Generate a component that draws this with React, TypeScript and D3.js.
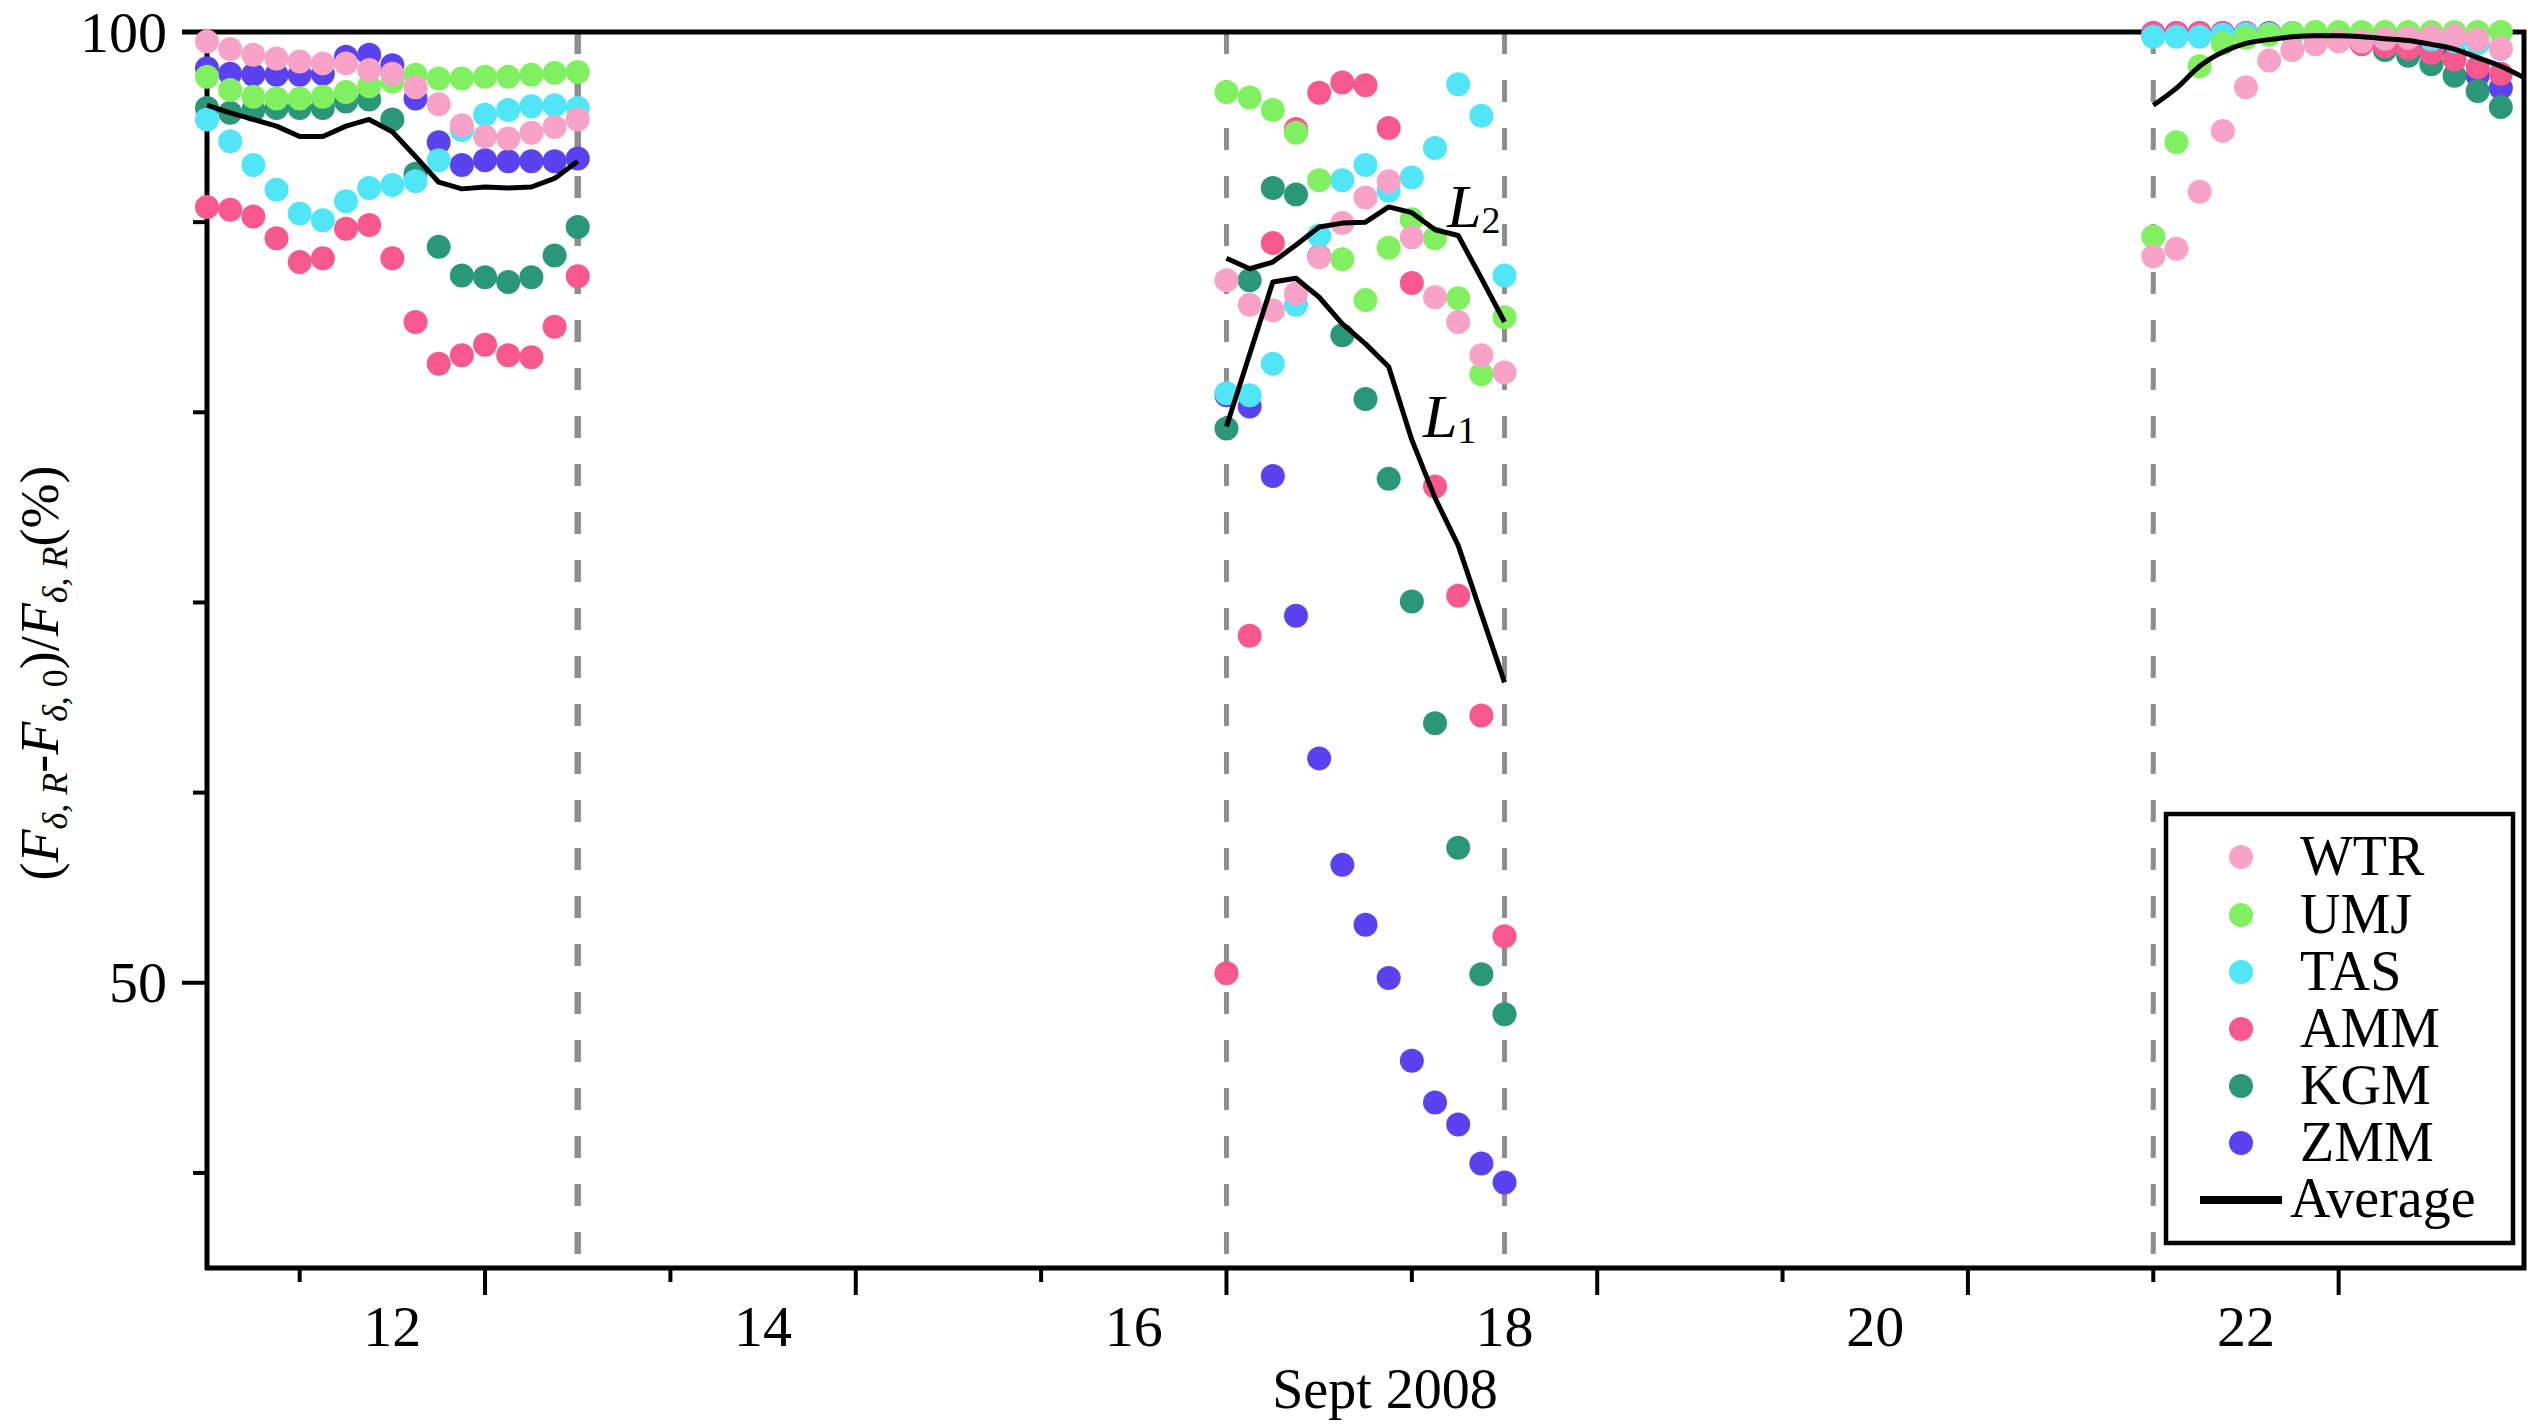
import React, { useEffect } from 'react';
import * as d3 from 'd3';

// Time (days of Sept 2008) for each of the three observation windows
const times1 = [11.5, 11.625, 11.75, 11.875, 12, 12.125, 12.25, 12.375, 12.5, 12.625, 12.75, 12.875, 13, 13.125, 13.25, 13.375, 13.5];
const times2 = [17, 17.125, 17.25, 17.375, 17.5, 17.625, 17.75, 17.875, 18, 18.125, 18.25, 18.375, 18.5];
const times3 = [22, 22.125, 22.25, 22.375, 22.5, 22.625, 22.75, 22.875, 23, 23.125, 23.25, 23.375, 23.5, 23.625, 23.75, 23.875, 24];

// Station values, window 1
const WTR1 = [99.5, 99.1, 98.8, 98.6, 98.45, 98.35, 98.35, 98.0, 97.8, 97.1, 96.2, 95.1, 94.5, 94.4, 94.7, 95.0, 95.4];
const UMJ1 = [97.65, 96.95, 96.6, 96.5, 96.5, 96.6, 96.85, 97.15, 97.4, 97.75, 97.55, 97.55, 97.65, 97.65, 97.75, 97.85, 97.9];
const TAS1 = [95.4, 94.25, 93.0, 91.7, 90.45, 90.1, 91.1, 91.8, 91.95, 92.15, 93.25, 94.85, 95.65, 95.9, 96.1, 96.15, 96.0];
const AMM1 = [90.8, 90.65, 90.3, 89.15, 87.9, 88.1, 89.65, 89.85, 88.1, 84.75, 82.55, 83.0, 83.55, 83.0, 82.9, 84.5, 87.15];
const KGM1 = [96.0, 95.75, 95.9, 96.0, 96.0, 96.0, 96.35, 96.45, 95.4, 92.55, 88.7, 87.2, 87.1, 86.85, 87.1, 88.25, 89.75];
const ZMM1 = [98.1, 97.8, 97.75, 97.75, 97.75, 97.8, 98.7, 98.8, 98.25, 96.5, 94.2, 93.0, 93.25, 93.2, 93.2, 93.2, 93.35];
const AVG1 = [96.15, 95.75, 95.4, 95.05, 94.5, 94.5, 95.05, 95.4, 94.75, 93.45, 92.1, 91.75, 91.85, 91.8, 91.85, 92.3, 93.2];

// window 2
const WTR2 = [86.95, 85.65, 85.35, 86.25, 88.15, 89.95, 91.3, 92.15, 89.2, 86.05, 84.75, 83.0, 82.1];
const UMJ2 = [96.85, 96.55, 95.9, 94.7, 92.2, 88.05, 85.9, 88.65, 90.15, 89.15, 86.0, 82.0, 85.0];
const TAS2 = [81.0, 80.9, 82.55, 85.65, 89.3, 92.2, 93.0, 91.65, 92.35, 93.9, 97.25, 95.6, 87.2];
const AMM2 = [50.5, 68.25, 88.9, 94.9, 96.8, 97.35, 97.2, 94.95, 86.8, 76.1, 70.35, 64.05, 52.45];
const KGM2 = [79.15, 86.95, 91.8, 91.45, 88.2, 84.05, 80.7, 76.5, 70.05, 63.65, 57.1, 50.45, 48.35];
const ZMM2 = [80.9, 80.3, 76.65, 69.3, 61.8, 56.2, 53.05, 50.25, 45.9, 43.7, 42.55, 40.5, 39.5];
const L1 = [79.25, 83.05, 86.85, 87.05, 86.05, 84.65, 83.6, 82.4, 78.55, 75.5, 73.0, 69.4, 65.8];
const L2 = [88.1, 87.55, 87.9, 88.8, 89.75, 89.95, 90.0, 90.8, 90.5, 89.6, 89.3, 87.05, 84.75];

// window 3 (dots stop one step before the right edge)
const WTR3 = [88.2, 88.6, 91.6, 94.8, 97.1, 98.5, 99.05, 99.35, 99.5, 99.5, 99.65, 99.7, 99.75, 99.8, 99.6, 99.15];
const UMJ3 = [89.25, 94.2, 98.2, 99.4, 99.7, 99.85, 99.95, 100, 100, 100, 100, 100, 100, 100, 100, 100];
const TAS3 = [99.75, 99.75, 99.75, 99.85, 99.9, 99.9, 99.9, 99.9, 99.9, 99.9, 99.85, 99.75, 99.6, 99.5, 99.4, 99.1];
const AMM3 = [99.95, 99.95, 99.95, 99.95, 99.95, 99.9, 99.9, 99.8, 99.6, 99.35, 99.25, 99.15, 98.9, 98.55, 98.15, 97.8];
const KGM3 = [99.9, 99.9, 99.9, 99.9, 99.9, 99.9, 99.9, 99.85, 99.75, 99.5, 99.05, 98.75, 98.3, 97.7, 96.9, 96.05];
const ZMM3 = [99.95, 99.95, 99.95, 99.95, 99.95, 99.95, 99.95, 99.9, 99.9, 99.85, 99.8, 99.6, 99.3, 98.8, 97.7, 97.05];
const AVG3 = [96.15, 97.05, 98.2, 98.95, 99.4, 99.6, 99.75, 99.8, 99.8, 99.75, 99.65, 99.55, 99.35, 99.1, 98.65, 98.2, 97.6];

const stationNames = ['WTR', 'UMJ', 'TAS', 'AMM', 'KGM', 'ZMM'];
const stationColors = ['#f8a2c8', '#80f060', '#50e6f8', '#f7588e', '#2a9878', '#5a42f0'];

// axis ticks
const dayLabels = [12, 14, 16, 18, 20, 22];
const longTickDays = [13, 15, 17, 19, 21, 23];
const shortTickDays = [12, 14, 16, 18, 20, 22];
const yMajorTicks = [50, 100];
const yMinorTicks = [40, 60, 70, 80, 90];
const dashedDays = [13.5, 17, 18.5, 22];

// curve labels
const curveLabels = [
  { main: 'L', sub: '2', day: 18.19, value: 89.76 },
  { main: 'L', sub: '1', day: 18.06, value: 78.7 },
];

const W = 2528;
const H = 1426;
const plot = { left: 207, right: 2524, top: 32, bottom: 1268 };
const FONT = "'Liberation Serif'";

function App() {
  useEffect(() => {
    document.body.style.margin = '0';
  }, []);

  const x = d3.scaleLinear().domain([11.5, 24]).range([plot.left, plot.right]);
  const y = d3.scaleLinear().domain([35, 100]).range([plot.bottom, plot.top]);

  const seriesData = [
    [WTR1, WTR2, WTR3],
    [UMJ1, UMJ2, UMJ3],
    [TAS1, TAS2, TAS3],
    [AMM1, AMM2, AMM3],
    [KGM1, KGM2, KGM3],
    [ZMM1, ZMM2, ZMM3],
  ];
  const windows = [times1, times2, times3];

  const series = stationNames.map((name, i) => ({
    name,
    color: stationColors[i],
    points: seriesData[i].flatMap((vals, w) => vals.map((v, j) => [windows[w][j], v] as [number, number])),
  }));

  const zip = (t: number[], v: number[]) => v.map((d, i) => [t[i], d] as [number, number]);
  const line = d3.line<[number, number]>().x(d => x(d[0])).y(d => y(d[1]));
  const smooth = d3.line<[number, number]>().x(d => x(d[0])).y(d => y(d[1])).curve(d3.curveMonotoneX);

  const averagePaths = [
    line(zip(times1, AVG1)),
    line(zip(times2, L1)),
    line(zip(times2, L2)),
    smooth(zip(times3, AVG3)),
  ];

  const legendRows = [857, 915, 972, 1029, 1086, 1143, 1200];
  const txt = { fontFamily: FONT };

  return (
    <svg width={W} height={H} style={{ display: 'block', background: '#fff' }}>
      {/* dashed window boundaries */}
      {dashedDays.map((d, i) => (
        <line key={`dash${d}`} x1={x(d)} x2={x(d)} y1={plot.top} y2={plot.bottom}
          stroke="#8e8e8e" strokeWidth={i === 0 ? 6.5 : 5} strokeDasharray="22 26" />
      ))}

      {/* frame */}
      <line x1={plot.left} x2={plot.left} y1={plot.top - 2} y2={plot.bottom + 2} stroke="#000" strokeWidth={5} />
      <line x1={plot.left - 2} x2={plot.right + 2} y1={plot.bottom} y2={plot.bottom} stroke="#000" strokeWidth={5} />
      <line x1={plot.left - 25} x2={plot.right + 2} y1={plot.top} y2={plot.top} stroke="#000" strokeWidth={5} />
      <line x1={plot.right} x2={plot.right} y1={plot.top - 2} y2={plot.bottom + 2} stroke="#000" strokeWidth={5} />

      {/* y ticks */}
      {yMajorTicks.map(t => (
        <g key={`ym${t}`}>
          <line x1={plot.left - 25} x2={plot.left} y1={y(t)} y2={y(t)} stroke="#000" strokeWidth={4} />
          <text style={txt} x={167} y={y(t)} dy="0.34em" textAnchor="end" fontSize={58}>{t}</text>
        </g>
      ))}
      {yMinorTicks.map(t => (
        <line key={`yn${t}`} x1={plot.left - 14} x2={plot.left} y1={y(t)} y2={y(t)} stroke="#000" strokeWidth={4} />
      ))}

      {/* x ticks */}
      {longTickDays.map(d => (
        <line key={`xl${d}`} x1={x(d)} x2={x(d)} y1={plot.bottom} y2={plot.bottom + 27} stroke="#000" strokeWidth={4} />
      ))}
      {shortTickDays.map(d => (
        <line key={`xs${d}`} x1={x(d)} x2={x(d)} y1={plot.bottom} y2={plot.bottom + 14} stroke="#000" strokeWidth={4} />
      ))}
      {dayLabels.map(d => (
        <text style={txt} key={`xt${d}`} x={x(d + 0.5)} y={1346} textAnchor="middle" fontSize={58}>{d}</text>
      ))}
      <text style={txt} x={1385} y={1408} textAnchor="middle" fontSize={56}>Sept 2008</text>

      {/* y label */}
      <text style={txt} transform="translate(58,673) rotate(-90)" textAnchor="middle" fontSize={54}>
        <tspan>(</tspan>
        <tspan fontStyle="italic">F</tspan>
        <tspan fontStyle="italic" fontSize={36} dy={9}>δ, R</tspan>
        <tspan dy={-9}>-</tspan>
        <tspan fontStyle="italic">F</tspan>
        <tspan fontStyle="italic" fontSize={36} dy={9}>δ, </tspan>
        <tspan fontSize={36}>0</tspan>
        <tspan dy={-9}>)/</tspan>
        <tspan fontStyle="italic">F</tspan>
        <tspan fontStyle="italic" fontSize={36} dy={9}>δ, R</tspan>
        <tspan dy={-9}>(%)</tspan>
      </text>

      {/* scatter: drawn bottom-up so WTR ends on top */}
      {series.slice().reverse().map(s => (
        <g key={s.name} fill={s.color}>
          {s.points.map((p, i) => (
            <circle key={i} cx={x(p[0])} cy={y(p[1])} r={12} />
          ))}
        </g>
      ))}

      {/* averages */}
      {averagePaths.map((d, i) => (
        <path key={`avg${i}`} d={d ?? ''} fill="none" stroke="#000" strokeWidth={5} strokeLinejoin="round" />
      ))}

      {curveLabels.map(c => (
        <text style={txt} key={c.sub} x={x(c.day)} y={y(c.value)} fontSize={62} fontStyle="italic">
          {c.main}
          <tspan fontStyle="normal" fontSize={38} dy={6}>{c.sub}</tspan>
        </text>
      ))}

      {/* legend */}
      <rect x={2166} y={814} width={347} height={429} fill="#fff" stroke="#000" strokeWidth={4.5} />
      {series.map((s, i) => (
        <g key={`lg${s.name}`}>
          <circle cx={2241} cy={legendRows[i]} r={12} fill={s.color} />
          <text style={txt} x={2300} y={legendRows[i] + 18} fontSize={56}>{s.name}</text>
        </g>
      ))}
      <line x1={2200} x2={2282} y1={legendRows[6]} y2={legendRows[6]} stroke="#000" strokeWidth={8} />
      <text style={txt} x={2290} y={legendRows[6] + 17} fontSize={56}>Average</text>
    </svg>
  );
}

export default App;
